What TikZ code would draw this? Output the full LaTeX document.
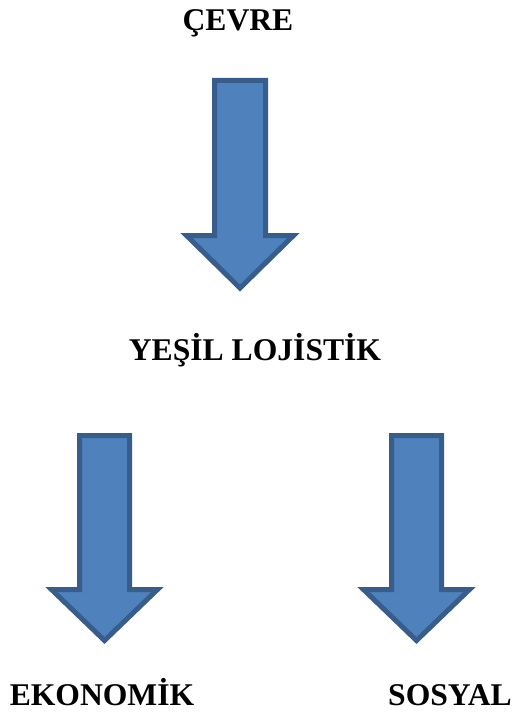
\documentclass[tikz,border=0pt]{standalone}
\usepackage{fontspec}
\setmainfont{Liberation Serif}
\definecolor{arrowfill}{HTML}{4F81BD}
\definecolor{arrowline}{HTML}{385D8A}
\tikzset{
  blockarrow/.style={fill=arrowfill, draw=arrowline, line width=0.1cm, line join=miter},
  label/.style={anchor=base, inner sep=0pt, font=\fontsize{18}{22}\selectfont\bfseries}
}
\begin{document}
\begin{tikzpicture}[x=0.02cm,y=-0.02cm]
\useasboundingbox (0,0) rectangle (518,713);

\node[label] (cevre) at (238,31) {ÇEVRE};
\node[label] (yesil) at (255,360) {YEŞİL LOJİSTİK};
\node[label] (ekonomik) at (102,705) {EKONOMİK};
\node[label] (sosyal) at (450,705) {SOSYAL};

\coordinate (arrTop) at (240,80.5);
\coordinate (arrEko) at (104.5,435.5);
\coordinate (arrSos) at (416.5,435.5);

\draw[blockarrow] (arrTop) ++(-25.5,0) -- ++(0,155) -- ++(-28,0) -- ++(53.5,52.5) -- ++(53.5,-52.5) -- ++(-28,0) -- ++(0,-155) -- cycle;
\draw[blockarrow] (arrEko) ++(-25,0) -- ++(0,154) -- ++(-28,0) -- ++(53,51) -- ++(53,-51) -- ++(-28,0) -- ++(0,-154) -- cycle;
\draw[blockarrow] (arrSos) ++(-25,0) -- ++(0,154) -- ++(-28,0) -- ++(53,51) -- ++(53,-51) -- ++(-28,0) -- ++(0,-154) -- cycle;
\end{tikzpicture}
\end{document}
